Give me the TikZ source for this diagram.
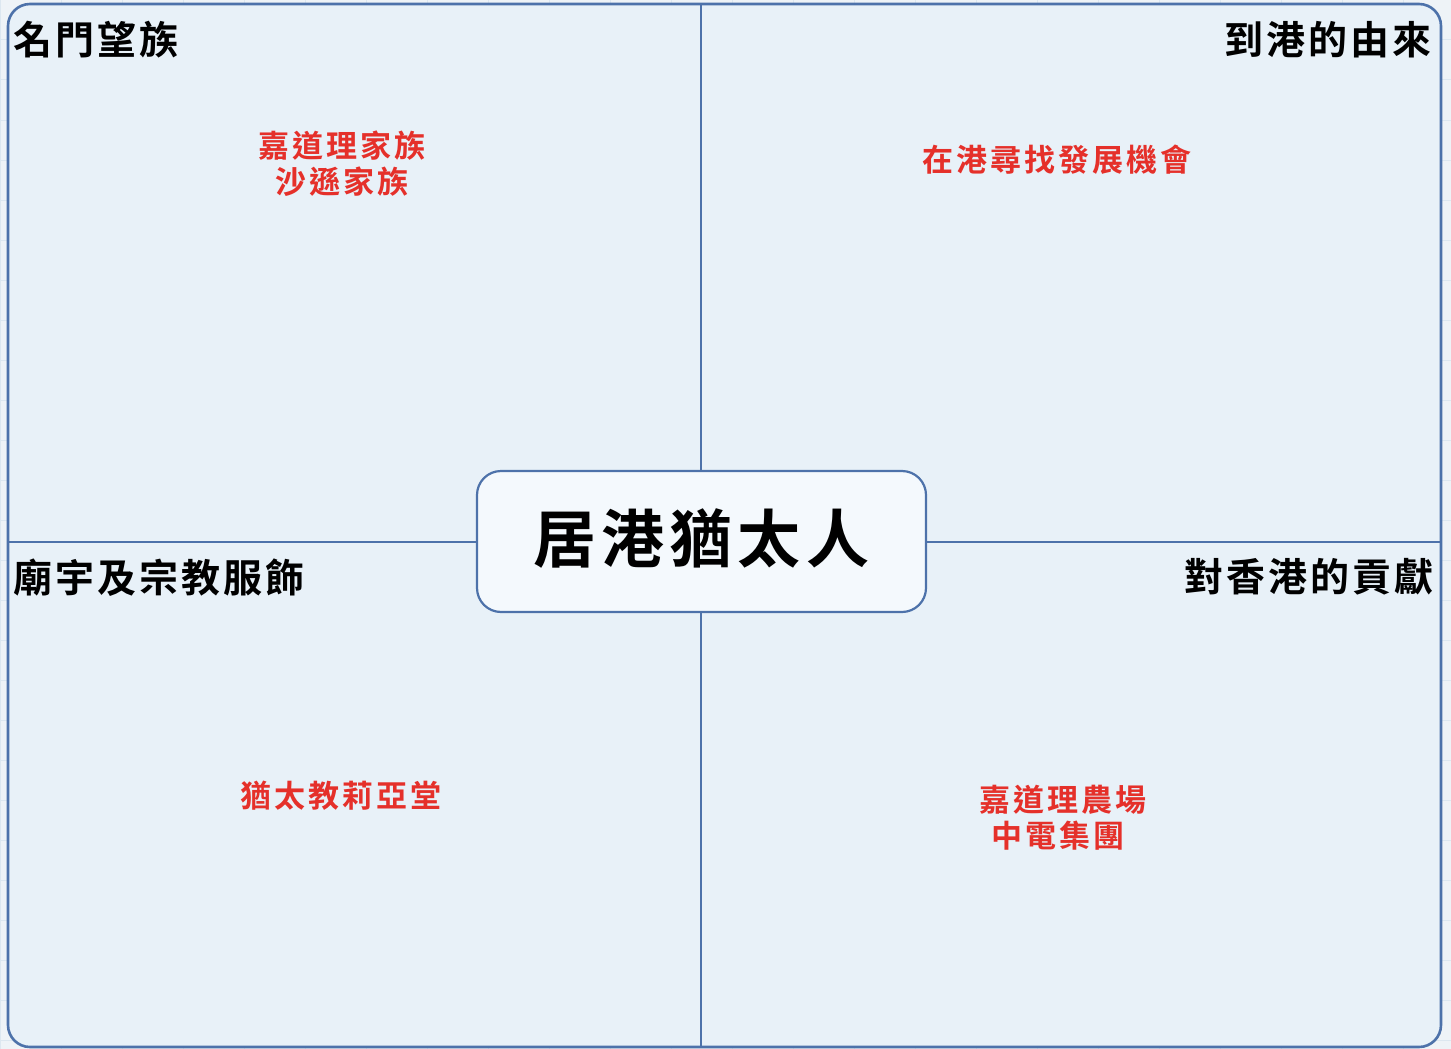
\documentclass[tikz,border=0pt]{standalone}
\usepackage{fontspec}
\newfontfamily\cjk{Noto Sans CJK TC}[BoldFont={* Bold}]
\definecolor{frameblue}{HTML}{4D72AA}
\definecolor{paneblue}{HTML}{E8F1F8}
\definecolor{boxfill}{HTML}{F4F9FD}
\definecolor{outerbg}{HTML}{EEF3F7}
\definecolor{gridc}{HTML}{DCE7F0}
\definecolor{redtxt}{HTML}{E5302A}
\tikzset{
  heading/.style={font=\cjk\bfseries\fontsize{39}{46}\selectfont\addfontfeature{LetterSpace=7.7}, text=black, inner sep=0pt},
  item/.style={font=\cjk\bfseries\fontsize{31}{36}\selectfont\addfontfeature{LetterSpace=9.7}, text=redtxt, align=center, inner sep=0pt},
  divider/.style={draw=frameblue, line width=2pt},
}
\begin{document}
\begin{tikzpicture}[x=1pt,y=-1pt]
\useasboundingbox (0,0) rectangle (1451,1049);
\fill[outerbg] (0,0) rectangle (1451,1049);
\foreach \gx in {0,61,...,1451} \draw[gridc, line width=1pt] (\gx,0) -- (\gx,1049);
\foreach \gy in {0,40,...,1049} \draw[gridc, line width=1pt] (0,\gy) -- (1451,\gy);
\draw[frameblue, fill=paneblue, line width=2.6pt, rounded corners=22pt] (8,4) rectangle (1441,1047);
\coordinate (top) at (701,4);
\coordinate (bottom) at (701,1047);
\coordinate (left) at (8,542);
\coordinate (right) at (1441,542);
\node[draw=frameblue, fill=boxfill, line width=2.2pt, rounded corners=24pt, minimum width=449pt, minimum height=141pt, inner sep=0pt] (center) at (701.5,541.5) {};
\node[font=\cjk\bfseries\fontsize{63}{66}\selectfont\addfontfeature{LetterSpace=8}, inner sep=0pt] (title) at (center.center) [yshift=3pt] {居港猶太人};
\draw[divider] (top) -- (center.north -| top);
\draw[divider] (center.south -| bottom) -- (bottom);
\draw[divider] (left) -- (center.west |- left);
\draw[divider] (center.east |- right) -- (right);
\node[heading, anchor=west] (h1) at (13,40) {名門望族};
\node[heading, anchor=east] (h2) at (1432,40) {到港的由來};
\node[heading, anchor=east] (h4) at (1434,577) {對香港的貢獻};
\node[heading, anchor=west] (h3) at (13,578) {廟宇及宗教服飾};
\node[item] (i1) at (342,164) {嘉道理家族\\沙遜家族};
\node[item] (i2) at (1057,160) {在港尋找發展機會};
\node[item] (i3) at (341,796) {猶太教莉亞堂};
\node[item, anchor=north] (i4a) at (1063,785) {嘉道理農場};
\node[item, anchor=north] (i4b) at (1058,821) {中電集團};
\end{tikzpicture}
\end{document}
